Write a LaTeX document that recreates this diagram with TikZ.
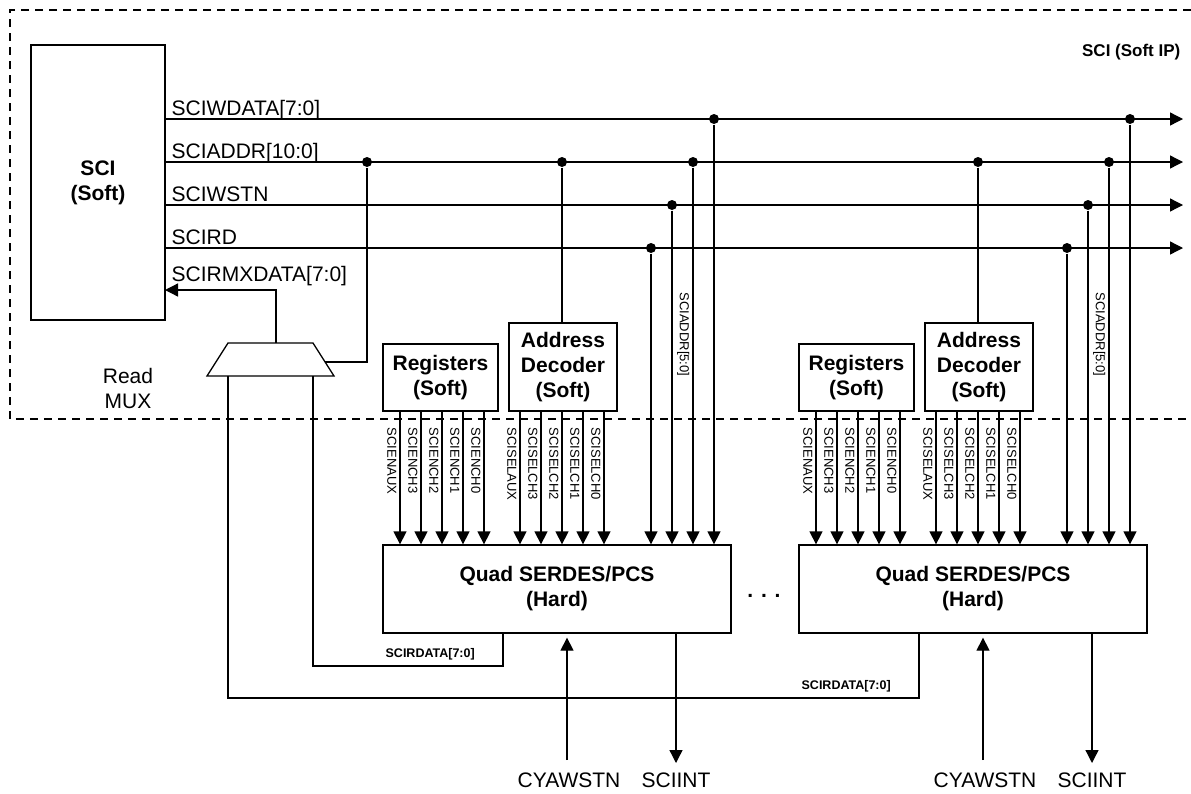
\documentclass[tikz,border=0pt]{standalone}
\usepackage{fontspec}
\setmainfont{Liberation Sans}
\usetikzlibrary{arrows.meta,positioning}

\begin{document}
\begin{tikzpicture}[x=1pt,y=-1pt,line width=1.3pt,
  >={Triangle[length=13pt,width=13pt]},
  block/.style={draw,align=center,inner sep=0,font=\bfseries\fontsize{21}{25}\selectfont},
  sig/.style={inner sep=0,font=\fontsize{21}{25}\selectfont},
  small sig/.style={inner sep=0,font=\fontsize{13}{15}\selectfont,rotate=-90,anchor=north west},
  junction/.style={circle,fill,inner sep=0,minimum size=10pt},
  frame/.style={dash pattern=on 8pt off 6pt,line width=1.2pt}]
  \useasboundingbox (0,0) rectangle (1191,793);

  % soft IP boundary
  \draw[frame] (1191,10) -| (10,419) -- (1191,419);
  \node[anchor=base east,inner sep=0,font=\bfseries\fontsize{17}{20}\selectfont] (ip) at (1181,56) {SCI (Soft IP)};

  \node[block,minimum width=134pt,minimum height=275pt] (sci) at (98,182.5) {SCI\\(Soft)};

  % SCI bus
  \foreach \n/\y/\s in {wdata/119/{SCIWDATA[7:0]},addr/162/{SCIADDR[10:0]},wstn/205/SCIWSTN,rd/248/SCIRD}{
    \coordinate (\n) at (1183,\y);
    \draw[->] (sci.east |- \n) -- (\n);
    \node[sig,anchor=base west] (\n lbl) at (171,\y-4) {\s};
  }

  % read mux
  \coordinate (mux tl) at (228,343);
  \coordinate (mux tr) at (313,343);
  \coordinate (mux br) at (334,376);
  \coordinate (mux bl) at (207,376);
  \draw (mux tl) -- (mux tr) -- (mux br) -- (mux bl) -- cycle;
  \coordinate (mux out) at (276,343);
  \coordinate (mux in) at (325,362);
  \node[sig,align=center] (muxlbl) at (128,388) {Read\\MUX};
  \coordinate (rmx) at (165,290);
  \draw[->] (mux out) |- (rmx);
  \node[sig,anchor=base west] (rmxlbl) at (171,281) {SCIRMXDATA[7:0]};
  \node[junction] (jmux) at (367,162) {};
  \draw (mux in) -| (jmux);

  \node[anchor=base,inner sep=0,font=\bfseries\fontsize{21}{25}\selectfont] (dots) at (764,597) {. . .};

  % one quad with its soft registers and decoder
  \foreach \k/\x/\lvl/\c in {A/383/666/mux tr,B/799/698/mux tl}{
    \begin{scope}[xshift=\x pt]
      \node[block,minimum width=115pt,minimum height=67pt] (reg\k) at (57.5,377.5) {Registers\\(Soft)};
      \node[block,minimum width=108pt,minimum height=88pt] (dec\k) at (180,367) {Address\\Decoder\\(Soft)};
      \node[block,minimum width=348pt,minimum height=88pt] (quad\k) at (174,589) {Quad SERDES/PCS\\(Hard)};

      \node[junction] (dec\k tap) at (179,162) {};
      \draw (dec\k tap) -- (dec\k tap |- dec\k.north);
      \foreach \n/\px/\py in {rd/268/248,wstn/289/205,addr/310/162,wdata/331/119}{
        \node[junction] (\n\k) at (\px,\py) {};
        \draw[->] (\n\k) -- (\n\k |- quad\k.north);
      }
      \node[small sig] (addr\k lbl) at (307,292) {SCIADDR[5:0]};

      \foreach \s [count=\i from 0] in {SCIENAUX,SCIENCH3,SCIENCH2,SCIENCH1,SCIENCH0}{
        \coordinate (en\k\i) at (17+21*\i,411);
        \draw[->] (en\k\i) -- (en\k\i |- quad\k.north);
        \node[small sig] (en\k\i lbl) at (14+21*\i,427) {\s};
      }
      \foreach \s [count=\i from 0] in {SCISELAUX,SCISELCH3,SCISELCH2,SCISELCH1,SCISELCH0}{
        \coordinate (sel\k\i) at (137+21*\i,411);
        \draw[->] (sel\k\i) -- (sel\k\i |- quad\k.north);
        \node[small sig] (sel\k\i lbl) at (134+21*\i,427) {\s};
      }

      % read data back to the mux
      \coordinate (rdo\k) at (120,633);
      \draw (rdo\k) |- (\c |- 0,\lvl) -- (\c |- mux bl);
      \node[anchor=base west,inner sep=0,font=\bfseries\fontsize{12.5}{15}\selectfont] (rdl\k) at (2,\lvl-9) {SCIRDATA[7:0]};

      \coordinate (cy\k) at (184,760);
      \draw[->,shorten >=4pt] (cy\k) -- (cy\k |- quad\k.south);
      \coordinate (int\k) at (293,763);
      \draw[->] (int\k |- quad\k.south) -- (int\k);
      \node[sig,anchor=base] (cyl\k) at (186,787) {CYAWSTN};
      \node[sig,anchor=base] (intl\k) at (293,787) {SCIINT};
    \end{scope}
  }
\end{tikzpicture}
\end{document}
